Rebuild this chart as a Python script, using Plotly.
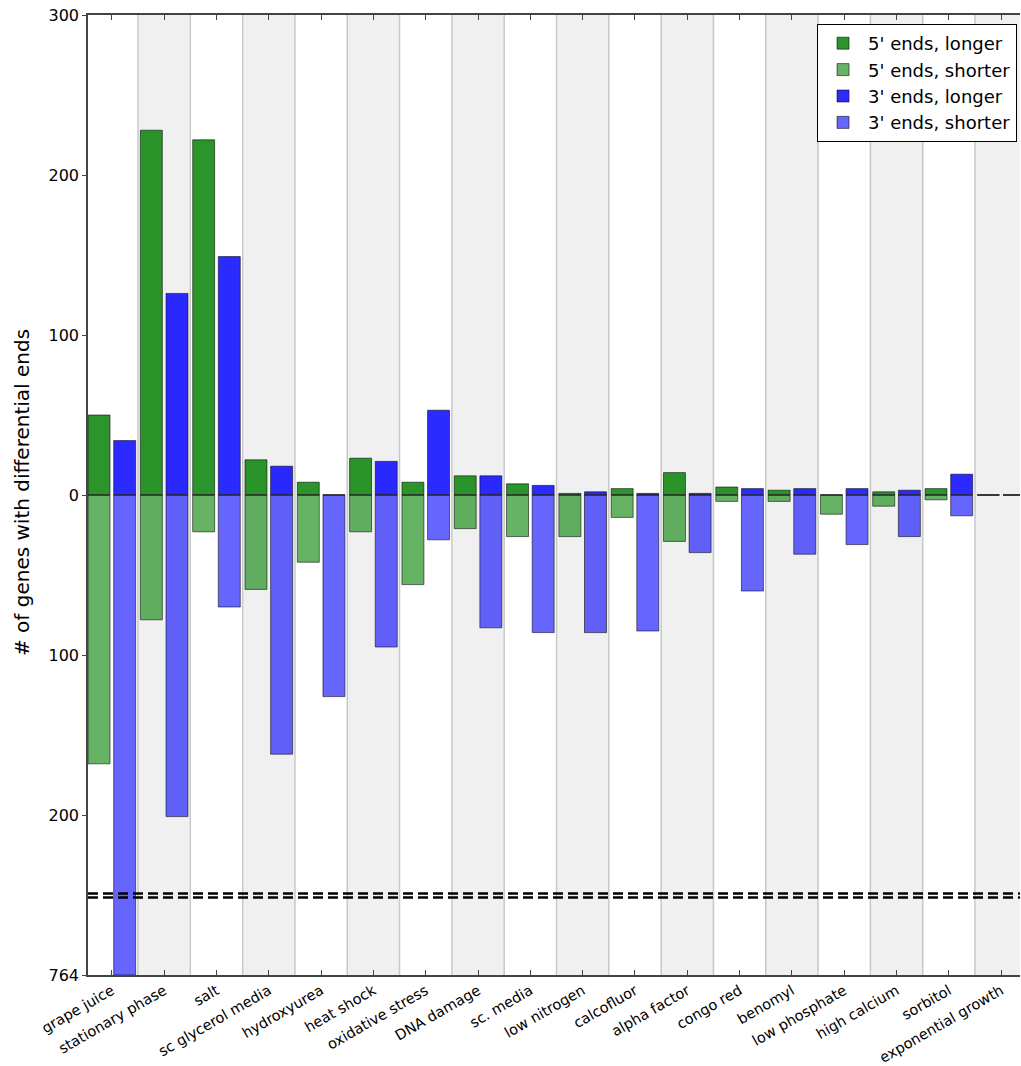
import plotly.graph_objects as go

categories = ["grape juice", "stationary phase", "salt", "sc glycerol media", "hydroxyurea",
              "heat shock", "oxidative stress", "DNA damage", "sc. media", "low nitrogen",
              "calcofluor", "alpha factor", "congo red", "benomyl", "low phosphate",
              "high calcium", "sorbitol", "exponential growth"]

five_longer = [50, 228, 222, 22, 8, 23, 8, 12, 7, 1, 4, 14, 5, 3, 0, 2, 4, 0]
five_shorter = [168, 78, 23, 59, 42, 23, 56, 21, 26, 26, 14, 29, 4, 4, 12, 7, 3, 0]
three_longer = [34, 126, 149, 18, 0, 21, 53, 12, 6, 2, 1, 1, 4, 4, 4, 3, 13, 0]
three_shorter = [764, 201, 70, 162, 126, 95, 28, 83, 86, 86, 85, 36, 60, 37, 31, 26, 13, 0]

y_ticks_upper = [-200, -100, 0, 100, 200, 300]
y_tick_text_upper = ["200", "100", "0", "100", "200", "300"]
y_ticks_lower = [-764]
y_tick_text_lower = ["764"]

FONT = "DejaVu Sans"
idx = list(range(len(categories)))
off = 0.245
bw = 0.42
x5 = [i - off for i in idx]
x3 = [i + off for i in idx]

c5l = "rgba(0,128,0,0.83)"
c5s = "rgba(0,128,0,0.6)"
c3l = "rgba(0,0,255,0.83)"
c3s = "rgba(0,0,255,0.6)"
edge = dict(color="rgba(0,0,0,0.55)", width=1)

xr = [-0.456, 17.36]
upper_range = [-250, 300]
lower_range = [-764, -714]
split = 80 / 960.0

fig = go.Figure()

series = [
    ("5' ends, longer", x5, five_longer, 1, c5l),
    ("5' ends, shorter", x5, five_shorter, -1, c5s),
    ("3' ends, longer", x3, three_longer, 1, c3l),
    ("3' ends, shorter", x3, three_shorter, -1, c3s),
]

for name, xs, vals, sign, col in series:
    ys = [sign * v for v in vals]
    fig.add_trace(go.Bar(x=xs, y=ys, width=bw, name=name, marker=dict(color=col, line=edge),
                         xaxis="x2", yaxis="y2", showlegend=True))
    fig.add_trace(go.Bar(x=xs, y=ys, width=bw, name=name, marker=dict(color=col, line=edge),
                         xaxis="x", yaxis="y", showlegend=False))

# zero edges for each bar
zx, zy = [], []
for xs in (x5, x3):
    for xv in xs:
        zx += [xv - bw / 2, xv + bw / 2, None]
        zy += [0, 0, None]
fig.add_trace(go.Scatter(x=zx, y=zy, mode="lines", line=dict(color="#333333", width=1.3),
                         xaxis="x2", yaxis="y2", showlegend=False, hoverinfo="skip"))

shapes = []
for i in idx:
    if i % 2 == 1:
        shapes.append(dict(type="rect", xref="x", yref="paper", x0=i - 0.5, x1=min(i + 0.5, xr[1]),
                           y0=0, y1=1, fillcolor="#f0f0f0", line=dict(width=0), layer="below"))
    if i > 0:
        shapes.append(dict(type="line", xref="x", yref="paper", x0=i - 0.5, x1=i - 0.5,
                           y0=0, y1=1, line=dict(color="#c8c8c8", width=1.5), layer="below"))

# axis break markers
for yb in ((975 - 893.5) / 960.0, (975 - 897.5) / 960.0):
    shapes.append(dict(type="line", xref="paper", yref="paper", x0=0, x1=1, y0=yb, y1=yb,
                       line=dict(color="black", width=2.5, dash="10px,5px"), layer="above"))

fig.update_layout(
    width=1021, height=1066,
    margin=dict(l=88, r=1, t=15, b=91),
    paper_bgcolor="white", plot_bgcolor="white",
    barmode="overlay",
    font=dict(family=FONT, size=14, color="black"),
    shapes=shapes,
    xaxis=dict(domain=[0, 1], anchor="y", range=xr, tickmode="array", tickvals=idx,
               ticktext=categories, tickangle=-30, ticks="inside", ticklen=5, tickcolor="#444",
               showline=True, linecolor="#444", linewidth=1.5, showgrid=False, zeroline=False,
               automargin=False, tickfont=dict(family=FONT, size=14.5)),
    xaxis2=dict(domain=[0, 1], anchor="y2", matches="x", side="top", range=xr, tickmode="array",
                tickvals=idx, showticklabels=False, ticks="inside", ticklen=5, tickcolor="#444",
                showline=True, linecolor="#444", linewidth=1.5, showgrid=False, zeroline=False,
                automargin=False),
    yaxis=dict(domain=[0, split], anchor="x", range=lower_range, tickmode="array",
               tickvals=y_ticks_lower, ticktext=y_tick_text_lower, ticks="outside", ticklen=4,
               tickcolor="#444", showline=True, linecolor="#444", linewidth=1.5,
               showgrid=False, zeroline=False, automargin=False,
               tickfont=dict(family=FONT, size=16)),
    yaxis2=dict(domain=[split, 1], anchor="x2", range=upper_range, tickmode="array",
                tickvals=y_ticks_upper, ticktext=y_tick_text_upper, ticks="outside", ticklen=4,
                tickcolor="#444", showline=True, linecolor="#444", linewidth=1.5,
                showgrid=False, zeroline=False, automargin=False,
                tickfont=dict(family=FONT, size=16)),
    legend=dict(x=0.9968, y=(975 - 24) / 960.0, xanchor="right", yanchor="top",
                bgcolor="white", bordercolor="black", borderwidth=1,
                font=dict(family=FONT, size=18), tracegroupgap=0, itemwidth=40),
    annotations=[dict(text="# of genes with differential ends", xref="paper", yref="paper",
                      x=(22 - 88) / 932.0, y=(975 - 493) / 960.0, xanchor="center",
                      yanchor="middle", textangle=-90, showarrow=False,
                      font=dict(family=FONT, size=20))],
)

fig.write_html("out.html", config={"displayModeBar": False},
               post_script="document.body.style.margin='0';")
